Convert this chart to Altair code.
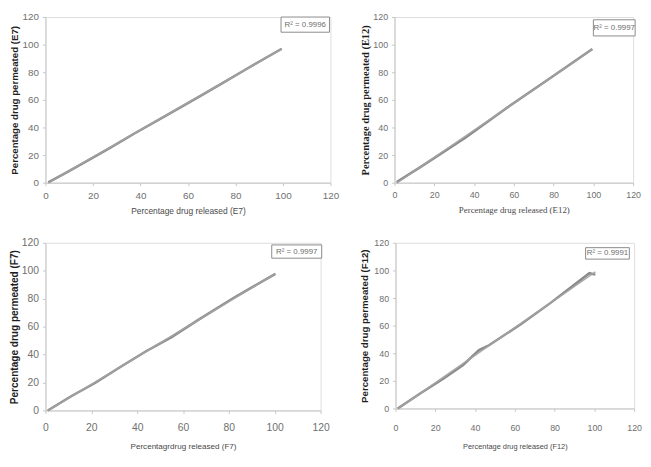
import altair as alt
import pandas as pd

# ---- data ----
e7_released = [1.2, 8, 17, 27, 38, 50, 62, 74, 85, 99.5]
e7_permeated = [0.2, 6.6, 15.3, 25.0, 36.2, 47.9, 59.6, 71.6, 82.7, 97.0]

e12_released = [1.1, 12.6, 35.6, 56.4, 78.2, 99.5]
e12_permeated = [0.5, 10.9, 32.5, 54.1, 75.7, 96.8]

f7_released = [1.0, 11, 21.8, 33, 43.7, 55, 67, 82, 100.3]
f7_permeated = [0.0, 10.0, 19.8, 31.5, 42.2, 52.5, 65.2, 80.5, 97.8]

f12_released = [1.1, 12, 24, 34, 42, 47, 63, 78, 97.5, 100.5]
f12_permeated = [0.0, 10.5, 21.5, 31.5, 42.3, 45.8, 61.0, 76.5, 98.0, 97.0]

tick_values = [0, 20, 40, 60, 80, 100, 120]

r2_labels = ["R² = 0.9996", "R² = 0.9997", "R² = 0.9997", "R² = 0.9991"]
# label box extents in data units (x1, x2, y1, y2)
r2_boxes = [
    (99.2, 119.6, 109.0, 120.0),
    (100.0, 121.0, 106.3, 118.0),
    (98.7, 120.5, 109.0, 118.5),
    (95.6, 117.6, 108.2, 116.5),
]

x_titles = [
    "Percentage drug released (E7)",
    "Percentage drug released (E12)",
    "Percentagrdrug released (F7)",
    "Percentage drug released (F12)",
]
y_titles = [
    "Percentage drug permeated (E7)",
    "Percentage drug permeated (E12)",
    "Percentage drug permeated (F7)",
    "Percentage drug permeated (F12)",
]

series = [
    (e7_released, e7_permeated),
    (e12_released, e12_permeated),
    (f7_released, f7_permeated),
    (f12_released, f12_permeated),
]

SANS = "Liberation Sans, Arial, sans-serif"
SERIF = "Liberation Serif, Times New Roman, serif"

panel_cfg = [
    dict(w=289, h=168, yfont=SANS, xfont=SANS, ysize=9.8, xsize=8.5, lsize=10,
         ytp=3, xlp=5, xtp=6),
    dict(w=242, h=168, yfont=SERIF, xfont=SERIF, ysize=10.6, xsize=9, lsize=9,
         ytp=2.7, xlp=5.5, xtp=5.5),
    dict(w=279, h=170, yfont=SANS, xfont=SANS, ysize=10.2, xsize=8.2, lsize=10.5,
         ytp=2, xlp=9.5, xtp=9.5),
    dict(w=242, h=168, yfont=SANS, xfont=SANS, ysize=9.8, xsize=7.5, lsize=9,
         ytp=4, xlp=12, xtp=10.5),
]


def panel(i):
    xs, ys = series[i]
    cfg = panel_cfg[i]
    df = pd.DataFrame({"x": xs, "y": ys})
    xscale = alt.Scale(domain=[0, 120], nice=False, zero=True)
    yscale = alt.Scale(domain=[0, 120], nice=False, zero=True)
    common = dict(
        values=tick_values, grid=False,
        domainColor="#c6c6c6", tickColor="#c6c6c6", tickSize=3,
        labelColor="#707070", labelFont=SANS, labelFontSize=cfg["lsize"],
        labelOverlap=False, labelFlush=False,
    )
    xaxis = alt.Axis(
        **common, labelPadding=cfg["xlp"],
        title=x_titles[i], titleFont=cfg["xfont"], titleFontSize=cfg["xsize"],
        titleFontWeight="normal", titleColor="#4a4a4a", titlePadding=cfg["xtp"],
    )
    yaxis = alt.Axis(
        **common, labelPadding=4,
        title=y_titles[i], titleFont=cfg["yfont"], titleFontSize=cfg["ysize"],
        titleFontWeight="bold", titleColor="#1e1e1e", titlePadding=cfg["ytp"],
    )

    def enc_x(field):
        return alt.X(field, type="quantitative", scale=xscale, axis=xaxis)

    def enc_y(field):
        return alt.Y(field, type="quantitative", scale=yscale, axis=yaxis)

    base = alt.Chart(df)
    data_line = base.mark_line(color="#8a8a8a", strokeWidth=2.5).encode(
        x=enc_x("x"), y=enc_y("y"),
    )
    trend = base.transform_regression("x", "y").mark_line(
        color="#a3a3a3", strokeWidth=1.6, opacity=0.9
    ).encode(x=enc_x("x"), y=enc_y("y"))
    bx1, bx2, by1, by2 = r2_boxes[i]
    bdf = pd.DataFrame({"x1": [bx1], "x2": [bx2], "y1": [by1], "y2": [by2],
                        "tx": [(bx1 + bx2) / 2], "ty": [(by1 + by2) / 2],
                        "label": [r2_labels[i]]})
    box = alt.Chart(bdf).mark_rect(fill="white", stroke="#8a8a8a", strokeWidth=1).encode(
        x=enc_x("x1"), x2="x2", y=enc_y("y1"), y2="y2"
    )
    txt = alt.Chart(bdf).mark_text(font=SANS, fontSize=8, color="#6e6e6e").encode(
        x=enc_x("tx"), y=enc_y("ty"), text="label:N"
    )
    return alt.layer(data_line, trend, box, txt).properties(width=cfg["w"], height=cfg["h"])


row1 = alt.hconcat(panel(0), panel(1), spacing=20)
row2 = alt.hconcat(panel(2), panel(3), spacing=29)

chart = alt.vconcat(row1, row2, spacing=22).properties(
    padding={"left": 0, "top": 0, "right": 0, "bottom": 0}
).configure_view(stroke=None).configure(background="white")

chart.save("out.html", embed_options={"renderer": "svg", "actions": False})
